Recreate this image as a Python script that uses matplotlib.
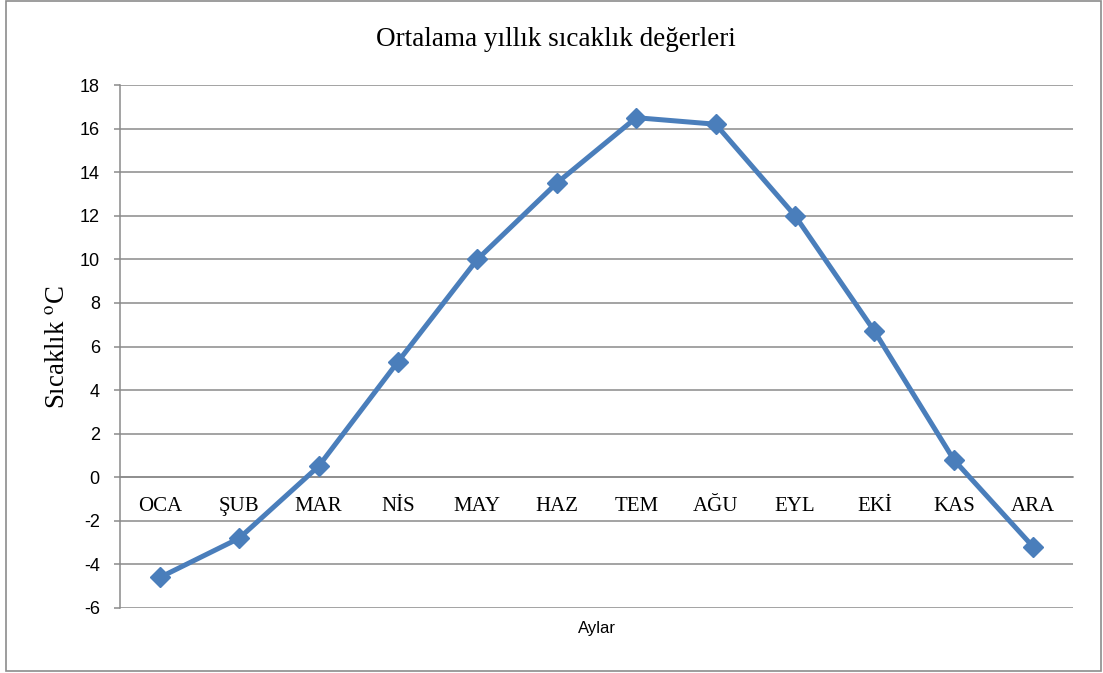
import matplotlib
matplotlib.use("Agg")
import matplotlib.pyplot as plt
from matplotlib.patches import Rectangle

months = ["OCA", "ŞUB", "MAR", "NİS", "MAY", "HAZ", "TEM", "AĞU", "EYL", "EKİ", "KAS", "ARA"]
temps = [-4.6, -2.8, 0.5, 5.3, 10.0, 13.5, 16.5, 16.2, 12.0, 6.7, 0.8, -3.2]
yticks = list(range(-6, 19, 2))
title = "Ortalama yıllık sıcaklık değerleri"
ylabel = "Sıcaklık $^{\\mathrm{o}}$C"
xlabel = "Aylar"

plt.rcParams["mathtext.fontset"] = "stix"

W, H = 1103, 673
fig = plt.figure(figsize=(W / 100, H / 100), dpi=100)
fig.patch.set_facecolor("white")

# outer frame
fig.add_artist(Rectangle((6 / W, 1 - 671 / H), (1101 - 6) / W, (671 - 1) / H,
                         transform=fig.transFigure, fill=False,
                         edgecolor="#8c8c8c", linewidth=1.2))

left, right, top, bottom = 120, 1073, 85, 608
ax = fig.add_axes([left / W, 1 - bottom / H, (right - left) / W, (bottom - top) / H])

grid_color = "#8a8a8a"
ax.set_ylim(-6, 18)
ax.set_xlim(-0.5, len(months) - 0.5)
ax.set_yticks(yticks)
ax.yaxis.grid(True, color=grid_color, linewidth=1.1)
ax.set_axisbelow(True)

for s in ["top", "right"]:
    ax.spines[s].set_visible(False)
ax.spines["left"].set_color(grid_color)
ax.spines["left"].set_linewidth(1.1)
ax.spines["bottom"].set_position(("data", 0))
ax.spines["bottom"].set_color(grid_color)
ax.spines["bottom"].set_linewidth(1.1)

ax.tick_params(axis="y", length=4.5, width=1.1, color=grid_color, pad=10,
               labelsize=13, labelcolor="black")
ax.set_yticklabels([str(v) for v in yticks], family="Liberation Sans")

ax.set_xticks(range(len(months)))
ax.set_xticklabels(months, family="Liberation Serif", fontsize=15)
ax.tick_params(axis="x", length=0, pad=14)

ax.plot(range(len(months)), temps, color="#4a7ebb", linewidth=3.6,
        marker="D", markersize=10.5, markerfacecolor="#4a7ebb",
        markeredgecolor="#4a7ebb", zorder=3, clip_on=False)

fig.text(556 / W, 1 - 40 / H, title, ha="center", va="center",
         family="Liberation Serif", fontsize=19.5)
fig.text(57 / W, 1 - 347 / H, ylabel, ha="center", va="center", rotation=90,
         family="Liberation Serif", fontsize=19.3)
fig.text(597 / W, 1 - 628 / H, xlabel, ha="center", va="center",
         family="Liberation Sans", fontsize=12)

fig.savefig("out.png", dpi=100)
